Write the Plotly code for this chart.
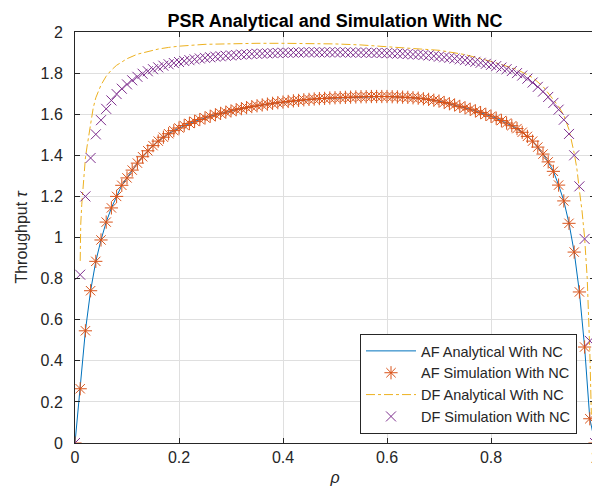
import numpy as np
import plotly.graph_objects as go

# rho grid of the simulation / AF analytical curves (step 0.01)
rho = np.round(np.arange(0, 101) / 100, 2)

af_analytical = [
    0.000, 0.264, 0.546, 0.741, 0.884, 0.988, 1.075, 1.144, 1.200, 1.254,
    1.290, 1.328, 1.362, 1.393, 1.422, 1.447, 1.469, 1.488, 1.505, 1.520,
    1.533, 1.545, 1.555, 1.565, 1.574, 1.582, 1.590, 1.597, 1.604, 1.610,
    1.616, 1.622, 1.627, 1.632, 1.637, 1.641, 1.645, 1.649, 1.653, 1.656,
    1.659, 1.662, 1.665, 1.667, 1.670, 1.672, 1.674, 1.676, 1.677, 1.679,
    1.680, 1.681, 1.682, 1.683, 1.684, 1.685, 1.685, 1.686, 1.686, 1.686,
    1.686, 1.685, 1.684, 1.683, 1.682, 1.680, 1.678, 1.675, 1.672, 1.668,
    1.664, 1.657, 1.651, 1.645, 1.638, 1.631, 1.624, 1.616, 1.608, 1.599,
    1.590, 1.580, 1.569, 1.557, 1.544, 1.530, 1.512, 1.492, 1.469, 1.440,
    1.406, 1.368, 1.322, 1.255, 1.178, 1.069, 0.929, 0.735, 0.467, 0.118,
    0.000,
]
af_simulation = list(af_analytical)

df_simulation = [
    0.000, 0.819, 1.200, 1.387, 1.502, 1.571, 1.626, 1.667, 1.698, 1.724,
    1.745, 1.765, 1.782, 1.797, 1.809, 1.819, 1.828, 1.836, 1.843, 1.849,
    1.854, 1.859, 1.863, 1.867, 1.871, 1.874, 1.877, 1.880, 1.882, 1.884,
    1.886, 1.888, 1.890, 1.891, 1.893, 1.894, 1.895, 1.896, 1.897, 1.898,
    1.899, 1.899, 1.900, 1.900, 1.901, 1.901, 1.901, 1.901, 1.901, 1.901,
    1.901, 1.901, 1.901, 1.900, 1.900, 1.900, 1.899, 1.899, 1.898, 1.898,
    1.897, 1.896, 1.895, 1.894, 1.893, 1.891, 1.890, 1.888, 1.886, 1.883,
    1.880, 1.877, 1.874, 1.871, 1.867, 1.863, 1.859, 1.855, 1.850, 1.845,
    1.840, 1.834, 1.827, 1.819, 1.810, 1.800, 1.788, 1.773, 1.754, 1.733,
    1.710, 1.684, 1.655, 1.622, 1.573, 1.504, 1.400, 1.249, 0.993, 0.497,
    0.000,
]

# DF analytical sampled finer near the edges
df_rho = [
    0.010, 0.011, 0.013, 0.015, 0.017, 0.020, 0.023, 0.026, 0.030, 0.035,
    0.040, 0.050, 0.060, 0.070, 0.080, 0.090, 0.100, 0.120, 0.140, 0.160,
    0.180, 0.200, 0.250, 0.300, 0.350, 0.400, 0.450, 0.500, 0.550, 0.600,
    0.650, 0.700, 0.750, 0.800, 0.850, 0.880, 0.900, 0.920, 0.930, 0.940,
    0.950, 0.960, 0.965, 0.970, 0.975, 0.980, 0.985, 0.990, 0.993,
]
df_analytical = [
    0.886, 1.062, 1.160, 1.226, 1.290, 1.387, 1.440, 1.484, 1.560, 1.630,
    1.680, 1.742, 1.785, 1.815, 1.838, 1.856, 1.870, 1.892, 1.906, 1.917,
    1.925, 1.931, 1.940, 1.944, 1.945, 1.945, 1.944, 1.942, 1.937, 1.929,
    1.920, 1.911, 1.890, 1.857, 1.818, 1.778, 1.735, 1.668, 1.638, 1.595,
    1.525, 1.410, 1.338, 1.230, 1.130, 1.000, 0.803, 0.450, 0.138,
]

x_ticks = [0, 0.2, 0.4, 0.6, 0.8, 1]
y_ticks = [0, 0.2, 0.4, 0.6, 0.8, 1, 1.2, 1.4, 1.6, 1.8, 2]

FONT = "Liberation Sans, Arial, Helvetica, sans-serif"
INK = "#262626"


def _axis(ticks):
    return dict(
        tickvals=ticks, ticks="inside", ticklen=5, tickcolor=INK,
        showline=True, linecolor=INK, linewidth=1, mirror="ticks",
        showgrid=True, gridcolor="#DFDFDF", gridwidth=1, zeroline=False,
        tickfont=dict(size=16, color=INK, family=FONT), automargin=False,
    )


fig = go.Figure()
fig.add_trace(go.Scatter(
    x=rho, y=af_analytical, mode="lines", name="AF Analytical With NC",
    line=dict(color="#0072BD", width=1),
))
fig.add_trace(go.Scatter(
    x=rho, y=af_simulation, mode="markers", name="AF Simulation With NC",
    marker=dict(symbol="asterisk-open", size=11, color="#D95319",
                line=dict(color="#D95319", width=1)),
))
fig.add_trace(go.Scatter(
    x=df_rho, y=df_analytical, mode="lines", name="DF Analytical With NC",
    line=dict(color="#EDB120", width=1, dash="dashdot"),
))
fig.add_trace(go.Scatter(
    x=rho, y=df_simulation, mode="markers", name="DF Simulation With NC",
    marker=dict(symbol="x-thin-open", size=10, color="#7E2F8E",
                line=dict(color="#7E2F8E", width=1)),
))

xa = _axis(x_ticks)
xa.update(range=[0, 1], ticklabelstandoff=0,
          title=dict(text="<i>ρ</i>", font=dict(size=16, color=INK, family=FONT), standoff=6))
ya = _axis(y_ticks)
ya.update(range=[0, 2], ticklabelstandoff=8,
          title=dict(text="Throughput <i>τ</i>", font=dict(size=16, color=INK, family=FONT), standoff=8))

fig.update_layout(
    width=600, height=488,
    margin=dict(l=67, r=13, t=24, b=53),
    plot_bgcolor="white", paper_bgcolor="white",
    title=dict(text="<b>PSR Analytical and Simulation With NC</b>",
               x=(67 + 260) / 600, xanchor="center", y=1 - 12.5 / 488, yanchor="middle",
               font=dict(size=18, color="black", family=FONT)),
    xaxis=xa, yaxis=ya,
    font=dict(family=FONT, color=INK),
    legend=dict(x=0.9654, y=0.022, xanchor="right", yanchor="bottom",
                bgcolor="white", bordercolor=INK, borderwidth=1,
                font=dict(size=14.5, color=INK, family=FONT),
                tracegroupgap=0, itemwidth=50),
    showlegend=True,
)

fig.write_html("out.html")
